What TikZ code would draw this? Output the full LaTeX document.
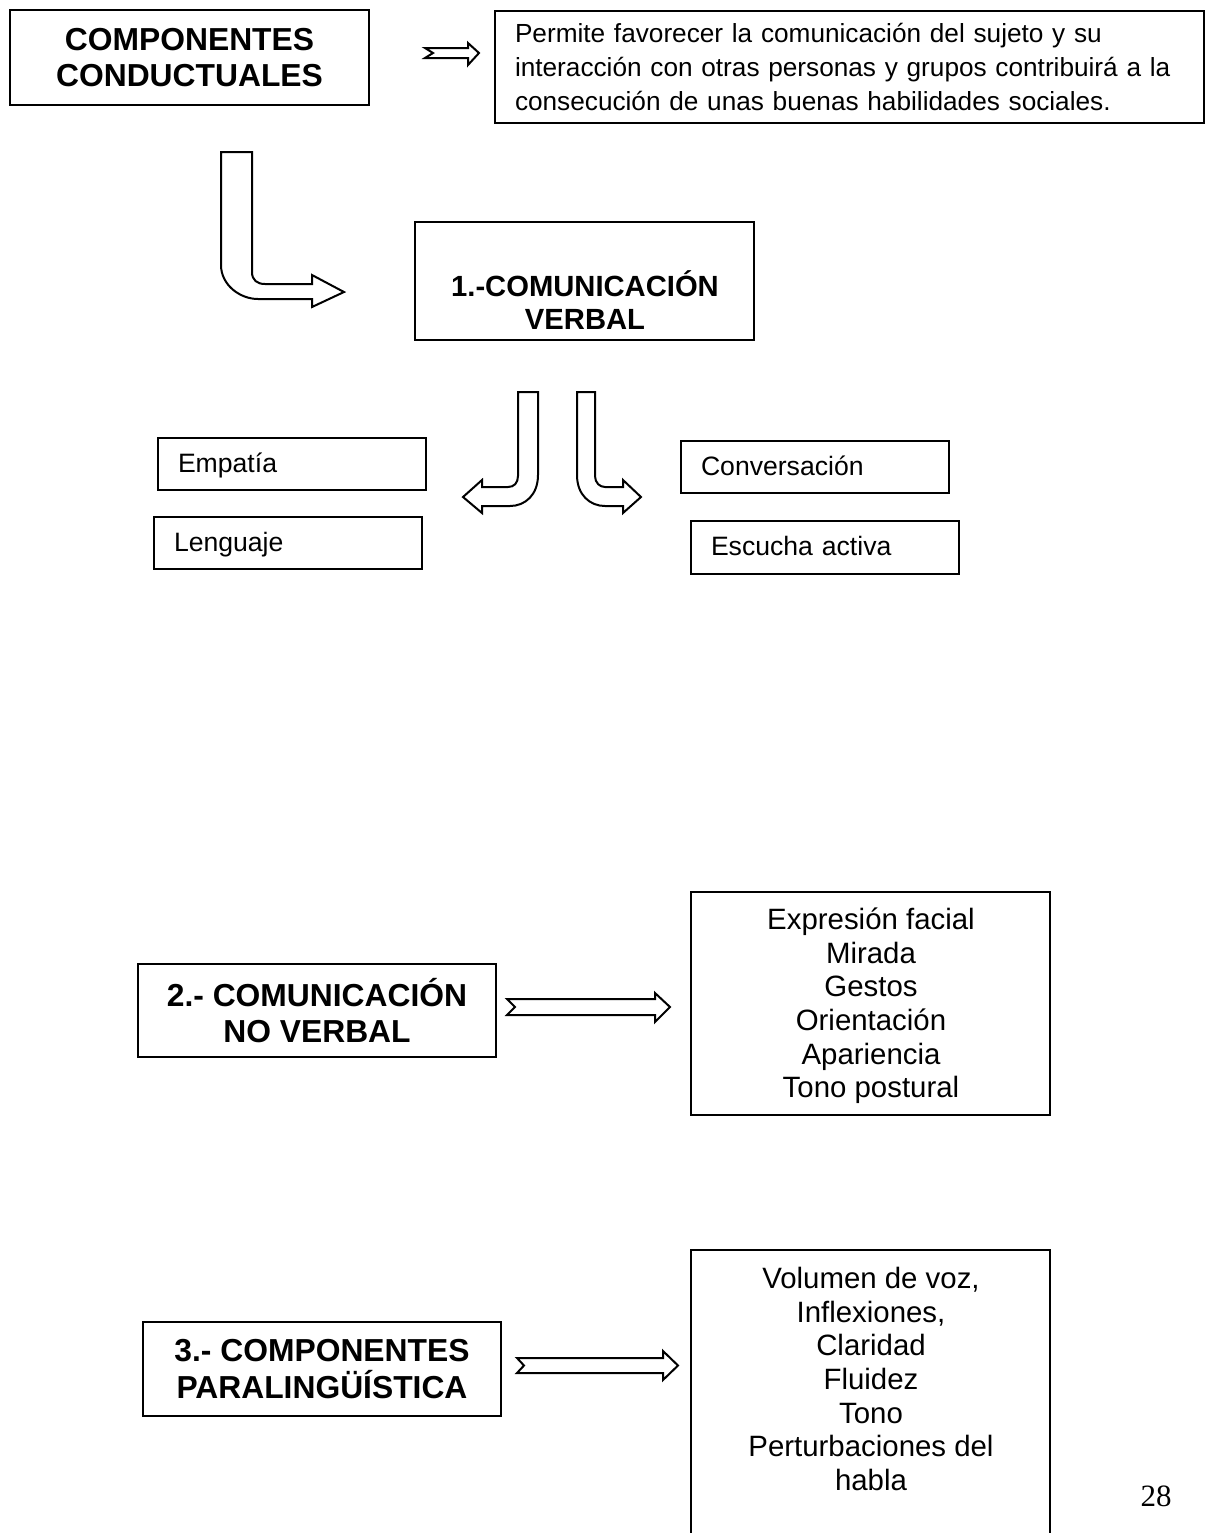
\documentclass[tikz,border=0pt]{standalone}
\usepackage{fontspec}
\setmainfont{Liberation Sans}
\newfontfamily\pagenumfont{Liberation Serif}

\begin{document}
\begin{tikzpicture}[x=0.5pt,y=-0.5pt,
    box/.style={draw,line width=1pt,inner sep=0pt},
    head/.style={font=\fontsize{15.9}{18.2}\selectfont\bfseries,align=center},
    body/.style={font=\fontsize{13.3}{16.8}\selectfont},
    list/.style={font=\fontsize{14.7}{16.8}\selectfont,align=center},
    item/.style={box,body,minimum width=134pt,minimum height=26pt,text width=114pt,inner xsep=10pt,align=left,text depth=1.5pt},
    blockarrow/.style={draw,line width=1pt,fill=white,line join=miter}]
        \clip(0,0)rectangle(1205,1533);
        \node[box,head,minimum width=179.5pt,minimum height=47.5pt](comp)at(189.5,57.5){COMPONENTES\\CONDUCTUALES};
        \node[box,font=\fontsize{13.1}{16.8}\selectfont,minimum height=56pt,text width=334.5pt,inner xsep=10pt,align=left](desc)at(849.5,67){Permite favorecer la comunicación del sujeto y su\\interacción con otras personas y grupos contribuirá a la\\consecución de unas buenas habilidades sociales.};
        \draw[blockarrow](425,48)--(433,53)--(425,58)--(468,58)--(468,65)--(479,53)--(468,43)--(468,48)--cycle;
        \draw[blockarrow](221,152)--(221,265)..controls(221,285)and(240,299)..(258,299)--(312,299)--(312,307)--(344,292)--(312,275)--(312,284)--(265,284)..controls(257,284)and(252,280)..(252,272)--(252,152)--cycle;
        \node[box,minimum width=169.5pt,minimum height=59pt](verbal)at(584.5,281){};
        \node[font=\fontsize{14.6}{16.6}\selectfont\bfseries,align=center](verbaltxt)at(585,300){1.-COMUNICACIÓN\\VERBAL};
        \draw[blockarrow](518,392)--(538,392)--(538,475)..controls(538,495)and(525,506)..(510,506)--(482,506)--(482,513)--(463,497)--(482,480)--(482,487)--(508,487)..controls(514,487)and(518,483)..(518,476)--cycle;
        \draw[blockarrow](595,392)--(577,392)--(577,475)..controls(577,495)and(590,506)..(605,506)--(623,506)--(623,513)--(641,497)--(623,480)--(623,487)--(605,487)..controls(600,487)and(595,483)..(595,476)--cycle;
        \node[item](empatia)at(292,464){Empatía};
        \node[item](lenguaje)at(288,543){Lenguaje};
        \node[item](conversacion)at(815,467){Conversación};
        \node[item,minimum height=26.5pt](escucha)at(825,547.5){Escucha activa};
        \node[box,head,minimum width=179pt,minimum height=46.5pt](noverbal)at(317,1010.5){2.- COMUNICACIÓN\\NO VERBAL};
        \draw[blockarrow](507,999)--(515,1007)--(507,1015)--(655,1015)--(655,1022)--(670,1007)--(655,993)--(655,999)--cycle;
        \node[box,minimum width=179.5pt,minimum height=111.5pt](gestos)at(870.5,1003.5){};
        \node[list](gestostxt)at(871,1006){Expresión facial\\Mirada\\Gestos\\Orientación\\Apariencia\\Tono postural};
        \node[box,head,minimum width=179pt,minimum height=47pt](paraling)at(322,1369){3.- COMPONENTES\\PARALINGÜÍSTICA};
        \draw[blockarrow](517,1358)--(524,1365.5)--(517,1373)--(663,1373)--(663,1380)--(678,1365.5)--(663,1351)--(663,1358)--cycle;
        \node[box,minimum width=179.5pt,minimum height=150pt](voz)at(870.5,1400){};
        \node[list](voztxt)at(871,1379){Volumen de voz,\\Inflexiones,\\Claridad\\Fluidez\\Tono\\Perturbaciones del\\habla};
        \node[font=\pagenumfont\fontsize{15.5}{18}\selectfont](pagenum)at(1156,1496){28};
    \end{tikzpicture}
\end{document}
